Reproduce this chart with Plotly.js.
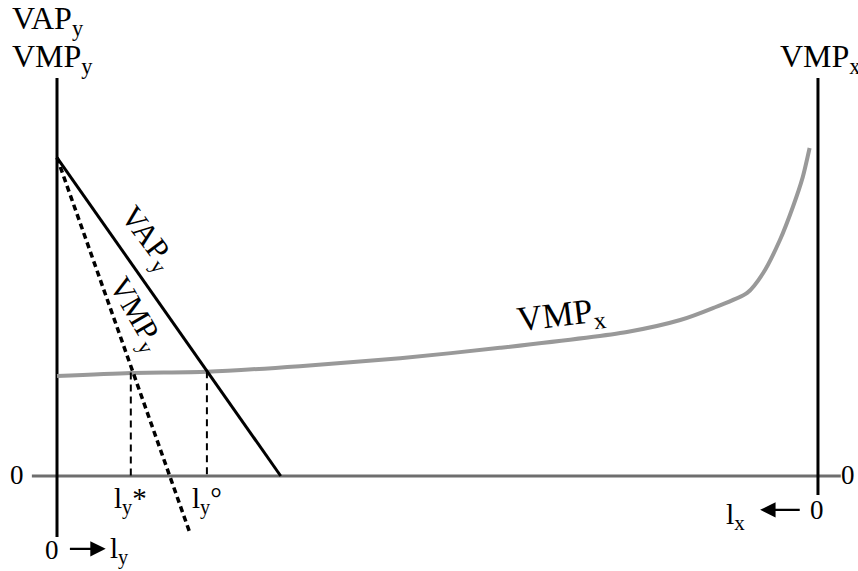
<!DOCTYPE html>
<html>
<head>
<meta charset="utf-8">
<script src="https://cdn.plot.ly/plotly-3.0.1.min.js"></script>
<style>
  html, body { margin: 0; padding: 0; background: #fff; }
  #chart { width: 858px; height: 571px; }
</style>
</head>
<body>
<div id="chart"></div>
<script>
// Labour used in sector y, measured from the left axis (l_y grows to the right;
// l_x grows to the left from the right axis at l_y = 10).
const laborTotal = 10;

// Value of the average product of labour in y (straight line)
const vapX = [0, 2.94];
const vapY = [8, 0];

// Value of the marginal product of labour in y (dashed, steeper)
const vmpYX = [0, 1.75];
const vmpYY = [8, -1.45];

// Value of the marginal product of labour in x, read against l_y
const vmpxLy = [0, 0.97, 1.97, 3.19, 4.51, 5.82, 7.49, 8.19, 8.62, 9.07, 9.28, 9.50, 9.67, 9.80, 9.89];
const vmpxVal = [2.51, 2.59, 2.62, 2.76, 2.96, 3.22, 3.62, 3.92, 4.22, 4.60, 5.10, 5.93, 6.76, 7.51, 8.24];

// Allocations: efficient (l_y*) and with average-product pricing (l_y°)
const allocX = [0.97, 1.97];
const allocY = [2.60, 2.63];
const allocLabels = ['l<sub>y</sub>*', 'l<sub>y</sub>°'];

const serif = 'Liberation Serif, Times New Roman, serif';

const traces = [
  // horizontal axis
  { x: [-0.33, 10.3], y: [0, 0], mode: 'lines', line: { color: '#6e6e6e', width: 3 }, hoverinfo: 'skip' },
  // left and right vertical axes
  { x: [0, 0], y: [-1.53, 10], mode: 'lines', line: { color: '#000', width: 3 }, hoverinfo: 'skip' },
  { x: [laborTotal, laborTotal], y: [-0.48, 10], mode: 'lines', line: { color: '#000', width: 3 }, hoverinfo: 'skip' },
  // VMP_x curve
  { x: vmpxLy, y: vmpxVal, mode: 'lines', line: { color: '#999999', width: 4, shape: 'spline', smoothing: 0.7 }, hoverinfo: 'skip' },
  // drop lines to the l_y axis
  { x: [allocX[0], allocX[0]], y: [allocY[0], 0], mode: 'lines', line: { color: '#000', width: 2, dash: '7px,5px' }, hoverinfo: 'skip' },
  { x: [allocX[1], allocX[1]], y: [allocY[1], 0], mode: 'lines', line: { color: '#000', width: 2, dash: '7px,5px' }, hoverinfo: 'skip' },
  // VAP_y
  { x: vapX, y: vapY, mode: 'lines', line: { color: '#000', width: 3 }, hoverinfo: 'skip' },
  // VMP_y
  { x: vmpYX, y: vmpYY, mode: 'lines', line: { color: '#000', width: 3.5, dash: '6px,4px' }, hoverinfo: 'skip' }
];

function label(x, y, text, size, opts) {
  return Object.assign({
    x: x, y: y, xref: 'x', yref: 'y', text: text, showarrow: false,
    font: { family: serif, size: size, color: '#000' }
  }, opts || {});
}

const annotations = [
  label(-0.62, 11.45, 'VAP<sub>y</sub>', 32, { xanchor: 'left' }),
  label(-0.62, 10.5, 'VMP<sub>y</sub>', 32, { xanchor: 'left' }),
  label(9.47, 10.5, 'VMP<sub>x</sub>', 32, { xanchor: 'left' }),
  label(-0.53, 0.02, '0', 27),
  label(10.4, 0.02, '0', 27),
  label(-0.07, -1.85, '0', 27),
  label(9.99, -0.86, '0', 27),
  label(0.82, -1.86, 'l<sub>y</sub>', 29),
  label(8.92, -1.0, 'l<sub>x</sub>', 30),
  label(allocX[0], -0.1, allocLabels[0], 29, { yanchor: 'top' }),
  label(allocX[1], -0.1, allocLabels[1], 29, { yanchor: 'top' }),
  label(1.18, 5.95, 'VAP<sub>y</sub>', 31, { textangle: 53 }),
  label(1.03, 4.05, 'VMP<sub>y</sub>', 31, { textangle: 60 }),
  label(6.62, 4.02, 'VMP<sub>x</sub>', 35, { textangle: -7 }),
  // direction arrows for l_y and l_x
  { x: 0.64, y: -1.83, xref: 'x', yref: 'y', ax: 0.15, ay: -1.83, axref: 'x', ayref: 'y',
    text: '', showarrow: true, arrowhead: 2, arrowsize: 1.4, arrowwidth: 2.2, arrowcolor: '#000' },
  { x: 9.24, y: -0.85, xref: 'x', yref: 'y', ax: 9.78, ay: -0.85, axref: 'x', ayref: 'y',
    text: '', showarrow: true, arrowhead: 2, arrowsize: 1.4, arrowwidth: 2.2, arrowcolor: '#000' }
];

const hidden = { visible: false, fixedrange: true };
const layout = {
  width: 858, height: 571,
  margin: { l: 0, r: 0, t: 0, b: 0 },
  paper_bgcolor: '#fff', plot_bgcolor: '#fff',
  showlegend: false,
  xaxis: Object.assign({ range: [-0.749, 10.526] }, hidden),
  yaxis: Object.assign({ range: [-2.387, 11.96] }, hidden),
  annotations: annotations
};

Plotly.newPlot('chart', traces, layout, { staticPlot: true, displayModeBar: false });
</script>
</body>
</html>
